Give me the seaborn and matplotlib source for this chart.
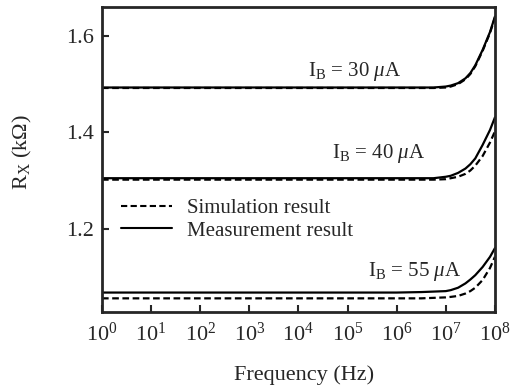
import numpy as np
import pandas as pd
import matplotlib
matplotlib.use("Agg")
import matplotlib.pyplot as plt
import seaborn as sns
from matplotlib.lines import Line2D

# ---- data ----
log_freq = [0, 1, 2, 3, 4, 5, 6, 6.5, 6.75, 7.0, 7.1, 7.25, 7.4, 7.5, 7.6, 7.75, 7.9, 8.0]
meas_30 = [1.493, 1.493, 1.493, 1.493, 1.493, 1.493, 1.493, 1.493, 1.493, 1.495, 1.497, 1.502, 1.512, 1.523, 1.539, 1.571, 1.608, 1.640]
sim_30 = [1.492, 1.492, 1.492, 1.492, 1.492, 1.492, 1.492, 1.492, 1.492, 1.493, 1.495, 1.500, 1.510, 1.521, 1.537, 1.569, 1.606, 1.638]
meas_40 = [1.305, 1.305, 1.305, 1.305, 1.305, 1.305, 1.305, 1.305, 1.305, 1.308, 1.310, 1.316, 1.325, 1.334, 1.346, 1.374, 1.405, 1.431]
sim_40 = [1.302, 1.302, 1.302, 1.302, 1.302, 1.302, 1.302, 1.302, 1.302, 1.303, 1.305, 1.308, 1.314, 1.321, 1.331, 1.351, 1.379, 1.402]
meas_55 = [1.068, 1.068, 1.068, 1.068, 1.068, 1.068, 1.068, 1.069, 1.070, 1.071, 1.073, 1.078, 1.087, 1.095, 1.104, 1.121, 1.142, 1.160]
sim_55 = [1.056, 1.056, 1.056, 1.056, 1.056, 1.056, 1.056, 1.056, 1.057, 1.058, 1.059, 1.061, 1.066, 1.071, 1.078, 1.094, 1.119, 1.142]
curve_labels = [r"I$_\mathrm{B}$ = 30 $\mu$A", r"I$_\mathrm{B}$ = 40 $\mu$A", r"I$_\mathrm{B}$ = 55 $\mu$A"]
label_log_x = [4.19, 4.68, 5.42]
label_y = [1.517, 1.347, 1.1026]
x_tick_exps = [0, 1, 2, 3, 4, 5, 6, 7, 8]
y_ticks = [1.2, 1.4, 1.6]

freq = [10.0 ** v for v in log_freq]
rows = []
for name, kind, vals in [("30", "meas", meas_30), ("30", "sim", sim_30),
                         ("40", "meas", meas_40), ("40", "sim", sim_40),
                         ("55", "meas", meas_55), ("55", "sim", sim_55)]:
    for f, v in zip(freq, vals):
        rows.append({"f": f, "R": v, "series": name + kind, "kind": kind})
df = pd.DataFrame(rows)

sns.set_style("ticks")
plt.rcParams["font.family"] = ["Liberation Serif", "DejaVu Serif"]
plt.rcParams["mathtext.fontset"] = "custom"
plt.rcParams["mathtext.rm"] = "Liberation Serif"
plt.rcParams["mathtext.it"] = "Liberation Serif:italic"
plt.rcParams["mathtext.bf"] = "Liberation Serif:bold"

DASH = (0, (3, 1.6))

fig = plt.figure(figsize=(5.15, 3.88), dpi=100)
ax = fig.add_axes([0.198, 0.197, 0.763, 0.786])

for s in df["series"].unique():
    sub = df[df["series"] == s]
    kind = sub["kind"].iloc[0]
    sns.lineplot(data=sub, x="f", y="R", ax=ax, color="black", lw=1.6,
                 linestyle="-" if kind == "meas" else DASH,
                 estimator=None, sort=True, legend=False)

ax.set_xscale("log")
ax.set_xlim(1, 1e8)
ax.set_ylim(1.0286, 1.6607)
ax.set_xticks([10.0 ** e for e in x_tick_exps])
ax.set_xticklabels([r"$10^{%d}$" % e for e in x_tick_exps])
ax.minorticks_off()
ax.set_yticks(y_ticks)
ax.set_yticklabels(["%.1f" % v for v in y_ticks])
ax.tick_params(direction="in", length=5, width=1.5, labelsize=16, pad=6)
ax.tick_params(axis="x", pad=8)
for sp in ax.spines.values():
    sp.set_linewidth(2)
    sp.set_visible(True)

ax.set_xlabel("Frequency (Hz)", fontsize=16)
ax.set_ylabel(r"R$_\mathrm{X}$ (k$\Omega$)", fontsize=16)
ax.xaxis.set_label_coords(0.515, -0.175)
ax.yaxis.set_label_coords(-0.172, 0.524)

for lab, lx, ly in zip(curve_labels, label_log_x, label_y):
    ax.text(10 ** lx, ly, lab, fontsize=15, ha="left", va="baseline")

handles = [Line2D([], [], color="black", lw=1.5, linestyle=DASH),
           Line2D([], [], color="black", lw=1.5, linestyle="-")]
ax.legend(handles, ["Simulation result", "Measurement result"], loc="center left",
          bbox_to_anchor=(0.048, 0.302), frameon=False, fontsize=15,
          handlelength=2.45, handletextpad=0.72, labelspacing=0.15, borderaxespad=0,
          borderpad=0)

fig.savefig("out.png", dpi=100)
